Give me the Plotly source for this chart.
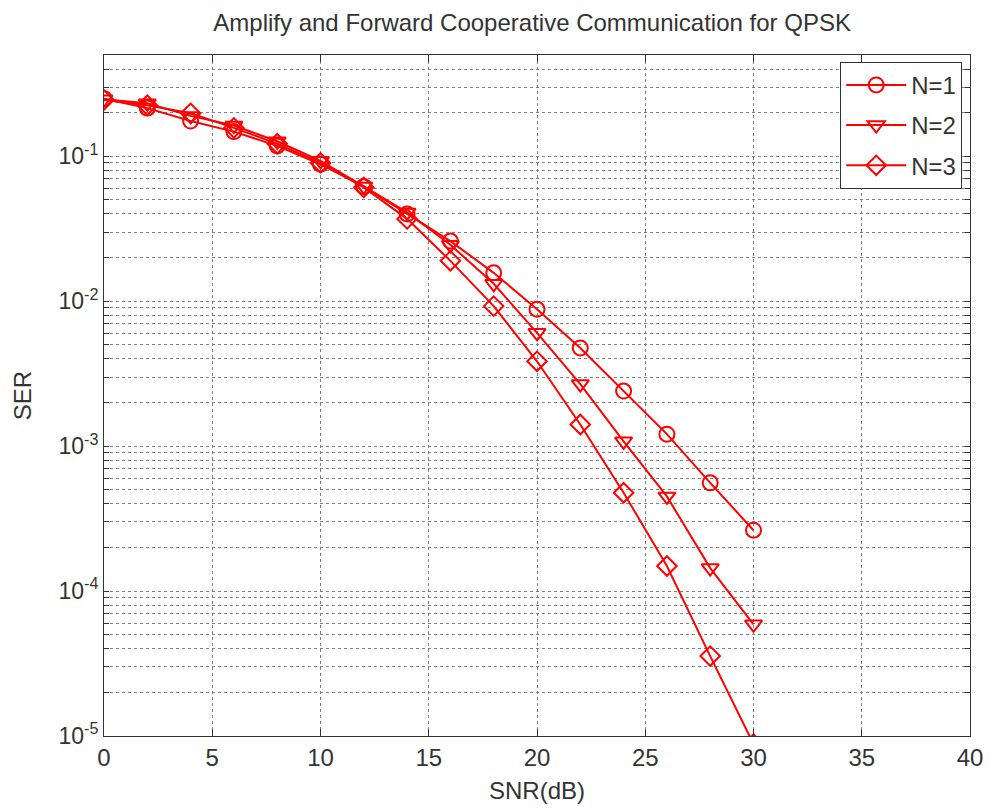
import plotly.graph_objects as go

snr = [0, 2, 4, 6, 8, 10, 12, 14, 16, 18, 20, 22, 24, 26, 28, 30]
ser_n1 = [0.25, 0.215, 0.175, 0.148, 0.118, 0.088, 0.062, 0.040, 0.026, 0.0157,
          0.0088, 0.00476, 0.0024, 0.00121, 0.000558, 0.000263]
ser_n2 = [0.248, 0.232, 0.19, 0.163, 0.127, 0.093, 0.062, 0.041, 0.0245, 0.0132,
          0.00605, 0.00268, 0.00108, 0.00045, 0.000144, 0.000059]
ser_n3 = [0.245, 0.225, 0.198, 0.157, 0.122, 0.090, 0.061, 0.037, 0.019, 0.00925,
          0.00385, 0.00141, 0.000477, 0.000149, 0.0000356, 0.0000088]
series_names = ["N=1", "N=2", "N=3"]
series_symbols = ["circle-open", "triangle-down-open", "diamond-open"]

x_ticks = [0, 5, 10, 15, 20, 25, 30, 35, 40]
decades = [-5, -4, -3, -2, -1]
Y_MIN, Y_MAX = 1e-5, 0.5

y_tickvals = []
y_ticktext = []
for d in decades:
    for m in range(1, 10):
        v = m * 10.0 ** d
        if v > Y_MAX:
            continue
        y_tickvals.append(v)
        y_ticktext.append(f"10<sup>{d}</sup>" if m == 1 else "")

FONT = "Arial, Liberation Sans, sans-serif"
RED = "#FF0000"
TXT = "#333333"

fig = go.Figure()
for name, sym, ys in zip(series_names, series_symbols, [ser_n1, ser_n2, ser_n3]):
    fig.add_trace(go.Scatter(
        x=snr, y=ys, name=name, mode="lines+markers", legendgroup=name,
        line=dict(color=RED, width=2), cliponaxis=True,
        marker=dict(symbol=sym, size=15, color=RED, line=dict(color=RED, width=2)),
    ))

fig.update_layout(
    width=990, height=808,
    margin=dict(l=104, r=20, t=55, b=72, autoexpand=False),
    paper_bgcolor="white", plot_bgcolor="white",
    font=dict(family=FONT, size=24, color=TXT),
    title=dict(text="Amplify and Forward Cooperative Communication for QPSK",
               x=0.5375, xanchor="center", y=1 - 23 / 808, yanchor="middle",
               yref="container", font=dict(size=24, color=TXT)),
    legend=dict(x=0.991, xanchor="right", y=0.99, yanchor="top",
                bgcolor="white", bordercolor=TXT, borderwidth=1,
                font=dict(size=24, color=TXT), tracegroupgap=6,
                itemwidth=60),
    showlegend=True,
)

fig.update_xaxes(
    range=[0, 40], tickvals=x_ticks, ticks="inside", ticklen=7, tickcolor=TXT,
    showline=True, linecolor=TXT, linewidth=1, mirror="ticks",
    showgrid=True, gridcolor="#7f7f7f", griddash="dot", gridwidth=1,
    zeroline=False, automargin=False,
    title=dict(text="SNR(dB)", standoff=12, font=dict(size=24)),
    tickfont=dict(size=24),
)
fig.update_yaxes(
    type="log", range=[-5, -0.30103], tickvals=y_tickvals, ticktext=y_ticktext,
    ticks="inside", ticklen=5, tickcolor=TXT,
    showline=True, linecolor=TXT, linewidth=1, mirror="ticks",
    showgrid=True, gridcolor="#7f7f7f", griddash="dot", gridwidth=1,
    zeroline=False, automargin=False,
    title=dict(text="SER", standoff=20, font=dict(size=24)),
    tickfont=dict(size=23),
)

fig.write_html("out.html")
